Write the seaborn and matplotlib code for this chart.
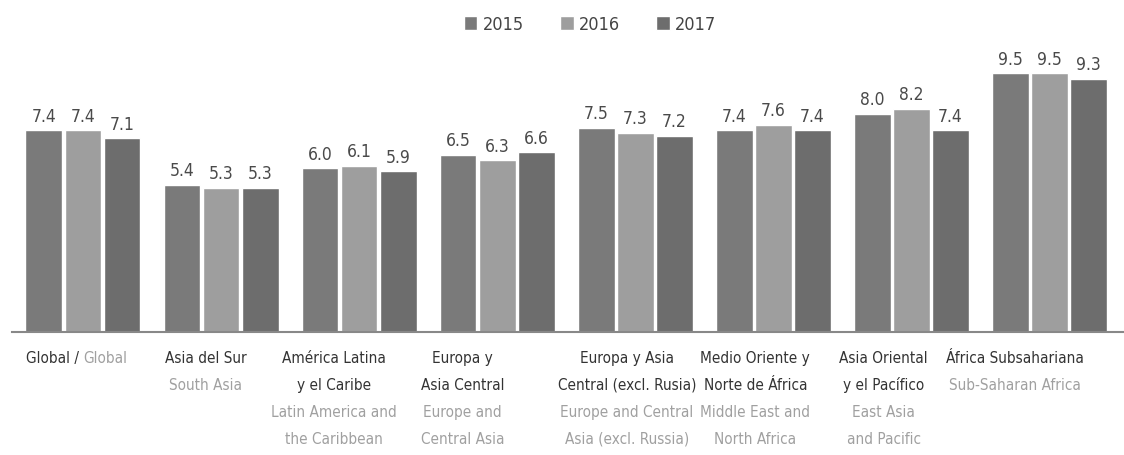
import numpy as np
import pandas as pd
import matplotlib
matplotlib.use("Agg")
import matplotlib.pyplot as plt
import seaborn as sns

# data
regions = ["Global", "Asia del Sur", "América Latina y el Caribe", "Europa y Asia Central",
           "Europa y Asia Central (excl. Rusia)", "Medio Oriente y Norte de África",
           "Asia Oriental y el Pacífico", "África Subsahariana"]
years = ["2015", "2016", "2017"]
v2015 = [7.4, 5.4, 6.0, 6.5, 7.5, 7.4, 8.0, 9.5]
v2016 = [7.4, 5.3, 6.1, 6.3, 7.3, 7.6, 8.2, 9.5]
v2017 = [7.1, 5.3, 5.9, 6.6, 7.2, 7.4, 7.4, 9.3]

spanish = [["Global /"], ["Asia del Sur"], ["América Latina", "y el Caribe"],
           ["Europa y", "Asia Central"], ["Europa y Asia", "Central (excl. Rusia)"],
           ["Medio Oriente y", "Norte de África"], ["Asia Oriental", "y el Pacífico"],
           ["África Subsahariana"]]
english = [["Global"], ["South Asia"], ["Latin America and", "the Caribbean"],
           ["Europe and", "Central Asia"], ["Europe and Central", "Asia (excl. Russia)"],
           ["Middle East and", "North Africa"], ["East Asia", "and Pacific"],
           ["Sub-Saharan Africa"]]

df = pd.DataFrame({
    "region": np.repeat(regions, 3),
    "year": years * len(regions),
    "value": np.ravel(np.column_stack([v2015, v2016, v2017])),
})

sns.set_style("white")
plt.rcParams["font.family"] = ["DejaVu Sans"]
plt.rcParams["font.stretch"] = "condensed"

colors = {"2015": "#7a7a7a", "2016": "#9e9e9e", "2017": "#6d6d6d"}

fig = plt.figure(figsize=(11.24, 4.56), dpi=100)
ax = fig.add_axes([12 / 1124, 123 / 456, 1 - 12 / 1124, (333 - 40) / 456])
sns.barplot(data=df, x="region", y="value", hue="year", palette=colors,
            width=0.85, gap=0.06, ax=ax, legend=True)

for c in ax.containers:
    ax.bar_label(c, fmt="%.1f", padding=4, fontsize=12.5, color="#4a4a4a",
                 fontstretch="condensed")

ax.set_xlim(-0.514, 7.54)
ax.set_ylim(0, 10.75)
ax.set_xlabel("")
ax.set_ylabel("")
ax.set_xticks([])
ax.set_yticks([])
for s in ["top", "right", "left"]:
    ax.spines[s].set_visible(False)
ax.spines["bottom"].set_color("#888888")
ax.spines["bottom"].set_linewidth(1.5)

# category labels under the axis
y0, dy = -0.92, -0.99
shift = [0, -0.11, -0.18, -0.25, -0.06, -0.13, -0.2, -0.25]
fs = 11
for i in range(len(regions)):
    if i == 0:
        ax.text(i + 0.0, y0, "Global / ", ha="right", va="center", fontsize=fs,
                color="#333333", clip_on=False, fontstretch="condensed")
        ax.text(i + 0.0, y0, "Global", ha="left", va="center", fontsize=fs,
                color="#a0a0a0", clip_on=False, fontstretch="condensed")
        continue
    lines = [(t, "#333333") for t in spanish[i]] + [(t, "#a0a0a0") for t in english[i]]
    for k, (t, col) in enumerate(lines):
        ax.text(i + shift[i], y0 + dy * k, t, ha="center", va="center", fontsize=fs,
                color=col, clip_on=False, fontstretch="condensed")

handles, labels = ax.get_legend_handles_labels()
ax.legend(handles, labels, loc="upper center", bbox_to_anchor=(0.525, 1.0),
          bbox_transform=fig.transFigure, ncol=3, frameon=False, fontsize=13,
          handlelength=0.75, handleheight=0.75, handletextpad=0.3, columnspacing=2.0,
          labelcolor="#444444")

fig.savefig("out.png", dpi=100)
